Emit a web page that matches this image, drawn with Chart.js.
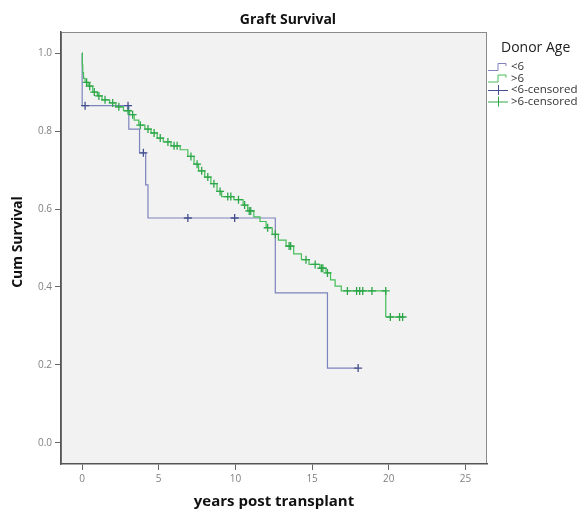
<!DOCTYPE html>
<html>
<head>
<meta charset="utf-8">
<script src="https://cdn.jsdelivr.net/npm/chart.js@4/dist/chart.umd.min.js"></script>
<style>
html,body{margin:0;padding:0;background:#fff;}
#wrap{width:586px;height:512px;position:relative;}
</style>
</head>
<body>
<div id="wrap"><canvas id="c" width="586" height="512"></canvas></div>
<script>
// ---- data ----
const chartTitle = "Graft Survival";
const legendTitle = "Donor Age";
const seriesNames = ["<6", ">6", "<6-censored", ">6-censored"];

// Kaplan-Meier curve, donor age <6 : time (years) and cumulative survival
const under6Times = [0, 0.01, 3.05, 3.75, 4.15, 4.3, 12.6, 16.0, 18.0];
const under6Surv  = [1.0, 0.865, 0.805, 0.744, 0.662, 0.577, 0.385, 0.192, 0.192];
// censored observations <6
const under6CensTimes = [0.2, 3.0, 4.0, 6.9, 9.95, 18.0];
const under6CensSurv  = [0.865, 0.865, 0.744, 0.577, 0.577, 0.192];

// Kaplan-Meier curve, donor age >6
const over6Times = [0, 0.02, 0.05, 0.1, 0.2, 0.4, 0.7, 1.0, 1.3, 1.8, 2.2, 2.7, 3.1, 3.4, 3.7, 4.1, 4.5, 4.9, 5.3, 5.8, 6.4, 6.9, 7.3, 7.6, 8.0, 8.4, 8.8, 9.1, 9.9, 10.5, 10.8, 11.2, 11.6, 12.0, 12.4, 12.8, 13.3, 13.8, 14.3, 14.8, 15.5, 15.9, 16.2, 16.5, 16.9, 19.8, 21.0];
const over6Surv  = [1.0, 0.97, 0.95, 0.935, 0.925, 0.915, 0.90, 0.89, 0.88, 0.872, 0.862, 0.852, 0.842, 0.828, 0.815, 0.805, 0.795, 0.782, 0.772, 0.762, 0.752, 0.735, 0.715, 0.698, 0.682, 0.665, 0.645, 0.632, 0.624, 0.61, 0.595, 0.58, 0.568, 0.552, 0.535, 0.52, 0.505, 0.485, 0.47, 0.458, 0.448, 0.436, 0.418, 0.402, 0.39, 0.323, 0.323];
// censored observations >6
const over6CensTimes = [0.3, 0.5, 0.8, 1.1, 1.5, 2.0, 2.4, 3.0, 3.3, 3.8, 4.3, 4.7, 5.1, 5.6, 6.0, 6.2, 7.1, 7.5, 7.8, 8.2, 8.6, 9.0, 9.5, 9.7, 10.2, 10.6, 10.9, 11.0, 12.1, 12.6, 13.5, 13.6, 14.6, 15.2, 15.6, 15.7, 16.0, 17.3, 17.9, 18.1, 18.3, 18.9, 19.8, 20.1, 20.7, 20.9];
const over6CensSurv  = [0.925, 0.915, 0.90, 0.89, 0.88, 0.872, 0.862, 0.852, 0.842, 0.815, 0.805, 0.795, 0.782, 0.772, 0.762, 0.762, 0.735, 0.715, 0.698, 0.682, 0.665, 0.645, 0.632, 0.632, 0.624, 0.61, 0.595, 0.595, 0.552, 0.535, 0.505, 0.505, 0.47, 0.458, 0.448, 0.448, 0.436, 0.39, 0.39, 0.39, 0.39, 0.39, 0.39, 0.323, 0.323, 0.323];

const xTickValues = [0, 5, 10, 15, 20, 25];
const yTickValues = [0.0, 0.2, 0.4, 0.6, 0.8, 1.0];
const xTitle = "years post transplant";
const yTitle = "Cum Survival";

// ---- styling ----
const blueLine = "#7c83bd";
const blueMark = "#45508f";
const greenLine = "#45be58";
const greenMark = "#2ea64a";
const FONT = "'Open Sans', 'DejaVu Sans', sans-serif";

const zip = (xs, ys) => xs.map((x, i) => ({x: x, y: ys[i]}));

const framePlugin = {
  id: 'frame',
  beforeDraw(chart) {
    const {ctx, chartArea: a} = chart;
    ctx.save();
    ctx.fillStyle = "#f2f2f2";
    ctx.fillRect(a.left, a.top, a.right - a.left, a.bottom - a.top);
    ctx.strokeStyle = "#8a8a8a";
    ctx.lineWidth = 1;
    ctx.strokeRect(a.left + 0.5, a.top + 0.5, a.right - a.left - 1, a.bottom - a.top - 1);
    ctx.restore();
  },
  afterDraw(chart) {
    const {ctx, chartArea: a} = chart;
    ctx.save();
    // title
    ctx.fillStyle = "#111";
    ctx.font = "bold 14px " + FONT;
    ctx.textAlign = "center";
    ctx.textBaseline = "middle";
    ctx.fillText(chartTitle, 288, 20);
    // y axis title
    ctx.save();
    ctx.translate(18, 242);
    ctx.rotate(-Math.PI / 2);
    ctx.font = "bold 14px " + FONT;
    ctx.fillText(yTitle, 0, 0);
    ctx.restore();
    // legend
    ctx.textAlign = "left";
    ctx.font = "14px " + FONT;
    ctx.fillStyle = "#222";
    ctx.fillText(legendTitle, 501, 48);
    const lx = a.right + 1;
    const rows = [67, 78.5, 90, 101.5];
    ctx.font = "11.5px " + FONT;
    rows.forEach((ry, i) => {
      ctx.lineWidth = 1;
      if (i < 2) {
        ctx.strokeStyle = i === 0 ? blueLine : greenLine;
        ctx.beginPath();
        ctx.moveTo(lx, ry + 3.5);
        ctx.lineTo(lx + 10, ry + 3.5);
        ctx.lineTo(lx + 10, ry - 3.5);
        ctx.lineTo(lx + 18, ry - 3.5);
        ctx.lineTo(lx + 18, ry - 1);
        ctx.stroke();
      } else {
        ctx.strokeStyle = i === 2 ? blueMark : greenMark;
        ctx.beginPath();
        ctx.moveTo(lx, ry + 0.5);
        ctx.lineTo(lx + 20, ry + 0.5);
        ctx.moveTo(lx + 10.5, ry - 5);
        ctx.lineTo(lx + 10.5, ry + 5);
        ctx.stroke();
      }
      ctx.fillStyle = "#333";
      ctx.fillText(seriesNames[i], 511, ry);
    });
    ctx.restore();
  }
};

new Chart(document.getElementById('c'), {
  type: 'line',
  data: {
    datasets: [
      { label: seriesNames[2], type: 'scatter', data: zip(under6CensTimes, under6CensSurv),
        pointStyle: 'cross', pointRadius: 4, borderColor: blueMark, borderWidth: 1.3, showLine: false, order: 0 },
      { label: seriesNames[3], type: 'scatter', data: zip(over6CensTimes, over6CensSurv),
        pointStyle: 'cross', pointRadius: 4, borderColor: greenMark, borderWidth: 1.3, showLine: false, order: 0 },
      { label: seriesNames[0], data: zip(under6Times, under6Surv), stepped: 'before',
        borderColor: blueLine, borderWidth: 1.2, pointRadius: 0, fill: false, order: 2 },
      { label: seriesNames[1], data: zip(over6Times, over6Surv), stepped: 'before',
        borderColor: greenLine, borderWidth: 1.2, pointRadius: 0, fill: false, order: 1 }
    ]
  },
  options: {
    responsive: false,
    animation: false,
    layout: { padding: { top: 32, right: 99, left: 0, bottom: 0 } },
    plugins: { legend: { display: false }, title: { display: false }, tooltip: { enabled: false } },
    scales: {
      x: {
        type: 'linear', min: -1.37, max: 26.4,
        afterBuildTicks: s => { s.ticks = xTickValues.map(v => ({value: v})); },
        afterFit: s => { s.height = 48; },
        grid: { drawOnChartArea: false, tickLength: 6, color: "#666", tickWidth: 1 },
        border: { display: true, color: "#555", width: 1.5 },
        ticks: { color: "#808080", font: { size: 10, family: FONT }, padding: 3, maxRotation: 0 },
        title: { display: true, text: xTitle, color: "#111", font: { size: 15, weight: 'bold', family: FONT }, padding: { top: 0, bottom: 1 } }
      },
      y: {
        type: 'linear', min: -0.054, max: 1.054,
        afterBuildTicks: s => { s.ticks = yTickValues.map(v => ({value: v})); },
        afterFit: s => { s.width = 61; },
        grid: { drawOnChartArea: false, tickLength: 6, color: "#666", tickWidth: 1 },
        border: { display: true, color: "#555", width: 1.5 },
        ticks: { color: "#808080", font: { size: 10, family: FONT }, padding: 3, callback: v => Number(v).toFixed(1) },
        title: { display: false, text: yTitle }
      }
    }
  },
  plugins: [framePlugin]
});
</script>
</body>
</html>
